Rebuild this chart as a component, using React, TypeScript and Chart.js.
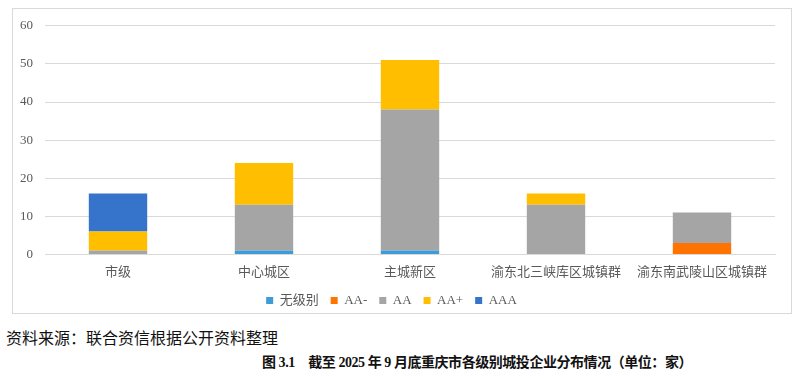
import React, { useEffect, useRef } from "react";
import { Chart, registerables } from "chart.js";

Chart.register(...registerables);

const categories = ["市级", "中心城区", "主城新区", "渝东北三峡库区城镇群", "渝东南武陵山区城镇群"];
const seriesNames = ["无级别", "AA-", "AA", "AA+", "AAA"];
const noRating = [0, 1, 1, 0, 0];
const aaMinus = [0, 0, 0, 0, 3];
const aa = [1, 12, 37, 13, 8];
const aaPlus = [5, 11, 13, 3, 0];
const aaa = [10, 0, 0, 0, 0];
const colors = ["#3D9BD8", "#FF7400", "#A5A5A5", "#FFBF00", "#3574CA"];
const yTicks = [0, 10, 20, 30, 40, 50, 60];

const FONT = "'Liberation Serif', 'Noto Sans CJK SC', serif";

export default function App() {
  const ref = useRef<HTMLCanvasElement | null>(null);
  useEffect(() => {
    if (!ref.current) return;
    const values = [noRating, aaMinus, aa, aaPlus, aaa];
    const chart = new Chart(ref.current, {
      type: "bar",
      data: {
        labels: categories,
        datasets: seriesNames.map((name, i) => ({
          label: name,
          data: values[i],
          backgroundColor: colors[i],
          borderWidth: 0,
          categoryPercentage: 1,
          barPercentage: 0.4,
        })),
      },
      options: {
        animation: false,
        responsive: false,
        maintainAspectRatio: false,
        layout: { padding: { top: 6, right: 16, left: -5, bottom: 2 } },
        scales: {
          x: {
            stacked: true,
            grid: { display: false },
            border: { color: "#D9D9D9" },
            ticks: { color: "#595959", font: { family: FONT, size: 13 }, padding: 2 },
          },
          y: {
            stacked: true,
            min: 0,
            max: 60,
            afterBuildTicks: (axis: any) => {
              axis.ticks = yTicks.map((v) => ({ value: v }));
            },
            grid: { color: "#D9D9D9", drawTicks: false },
            border: { display: false },
            ticks: { color: "#595959", font: { family: FONT, size: 13 }, padding: 12 },
          },
        },
        plugins: {
          legend: {
            position: "bottom",
            labels: {
              boxWidth: 7,
              boxHeight: 7,
              padding: 12,
              color: "#595959",
              font: { family: FONT, size: 13 },
            },
          },
          tooltip: { enabled: false },
        },
      },
    });
    return () => chart.destroy();
  }, []);

  return (
    <div style={{ position: "absolute", left: 0, top: 0, width: 800, height: 378, background: "#fff", fontFamily: FONT }}>
      <div
        style={{
          position: "absolute",
          left: 12,
          top: 8,
          width: 778,
          height: 304,
          border: "1px solid #D9D9D9",
        }}
      />
      <canvas
        ref={ref}
        width={778}
        height={313}
        style={{ display: "block", position: "absolute", left: 13, top: 6 }}
      />
      <div style={{ position: "absolute", left: 6, top: 325, fontSize: 16, color: "#111" }}>
        资料来源：联合资信根据公开资料整理
      </div>
      <div
        style={{
          position: "absolute",
          left: 262,
          top: 351,
          whiteSpace: "nowrap",
          fontSize: 14,
          letterSpacing: "-0.45px",
          fontWeight: "bold",
          color: "#111",
        }}
      >
        图 3.1　截至 2025 年 9 月底重庆市各级别城投企业分布情况（单位：家）
      </div>
    </div>
  );
}
